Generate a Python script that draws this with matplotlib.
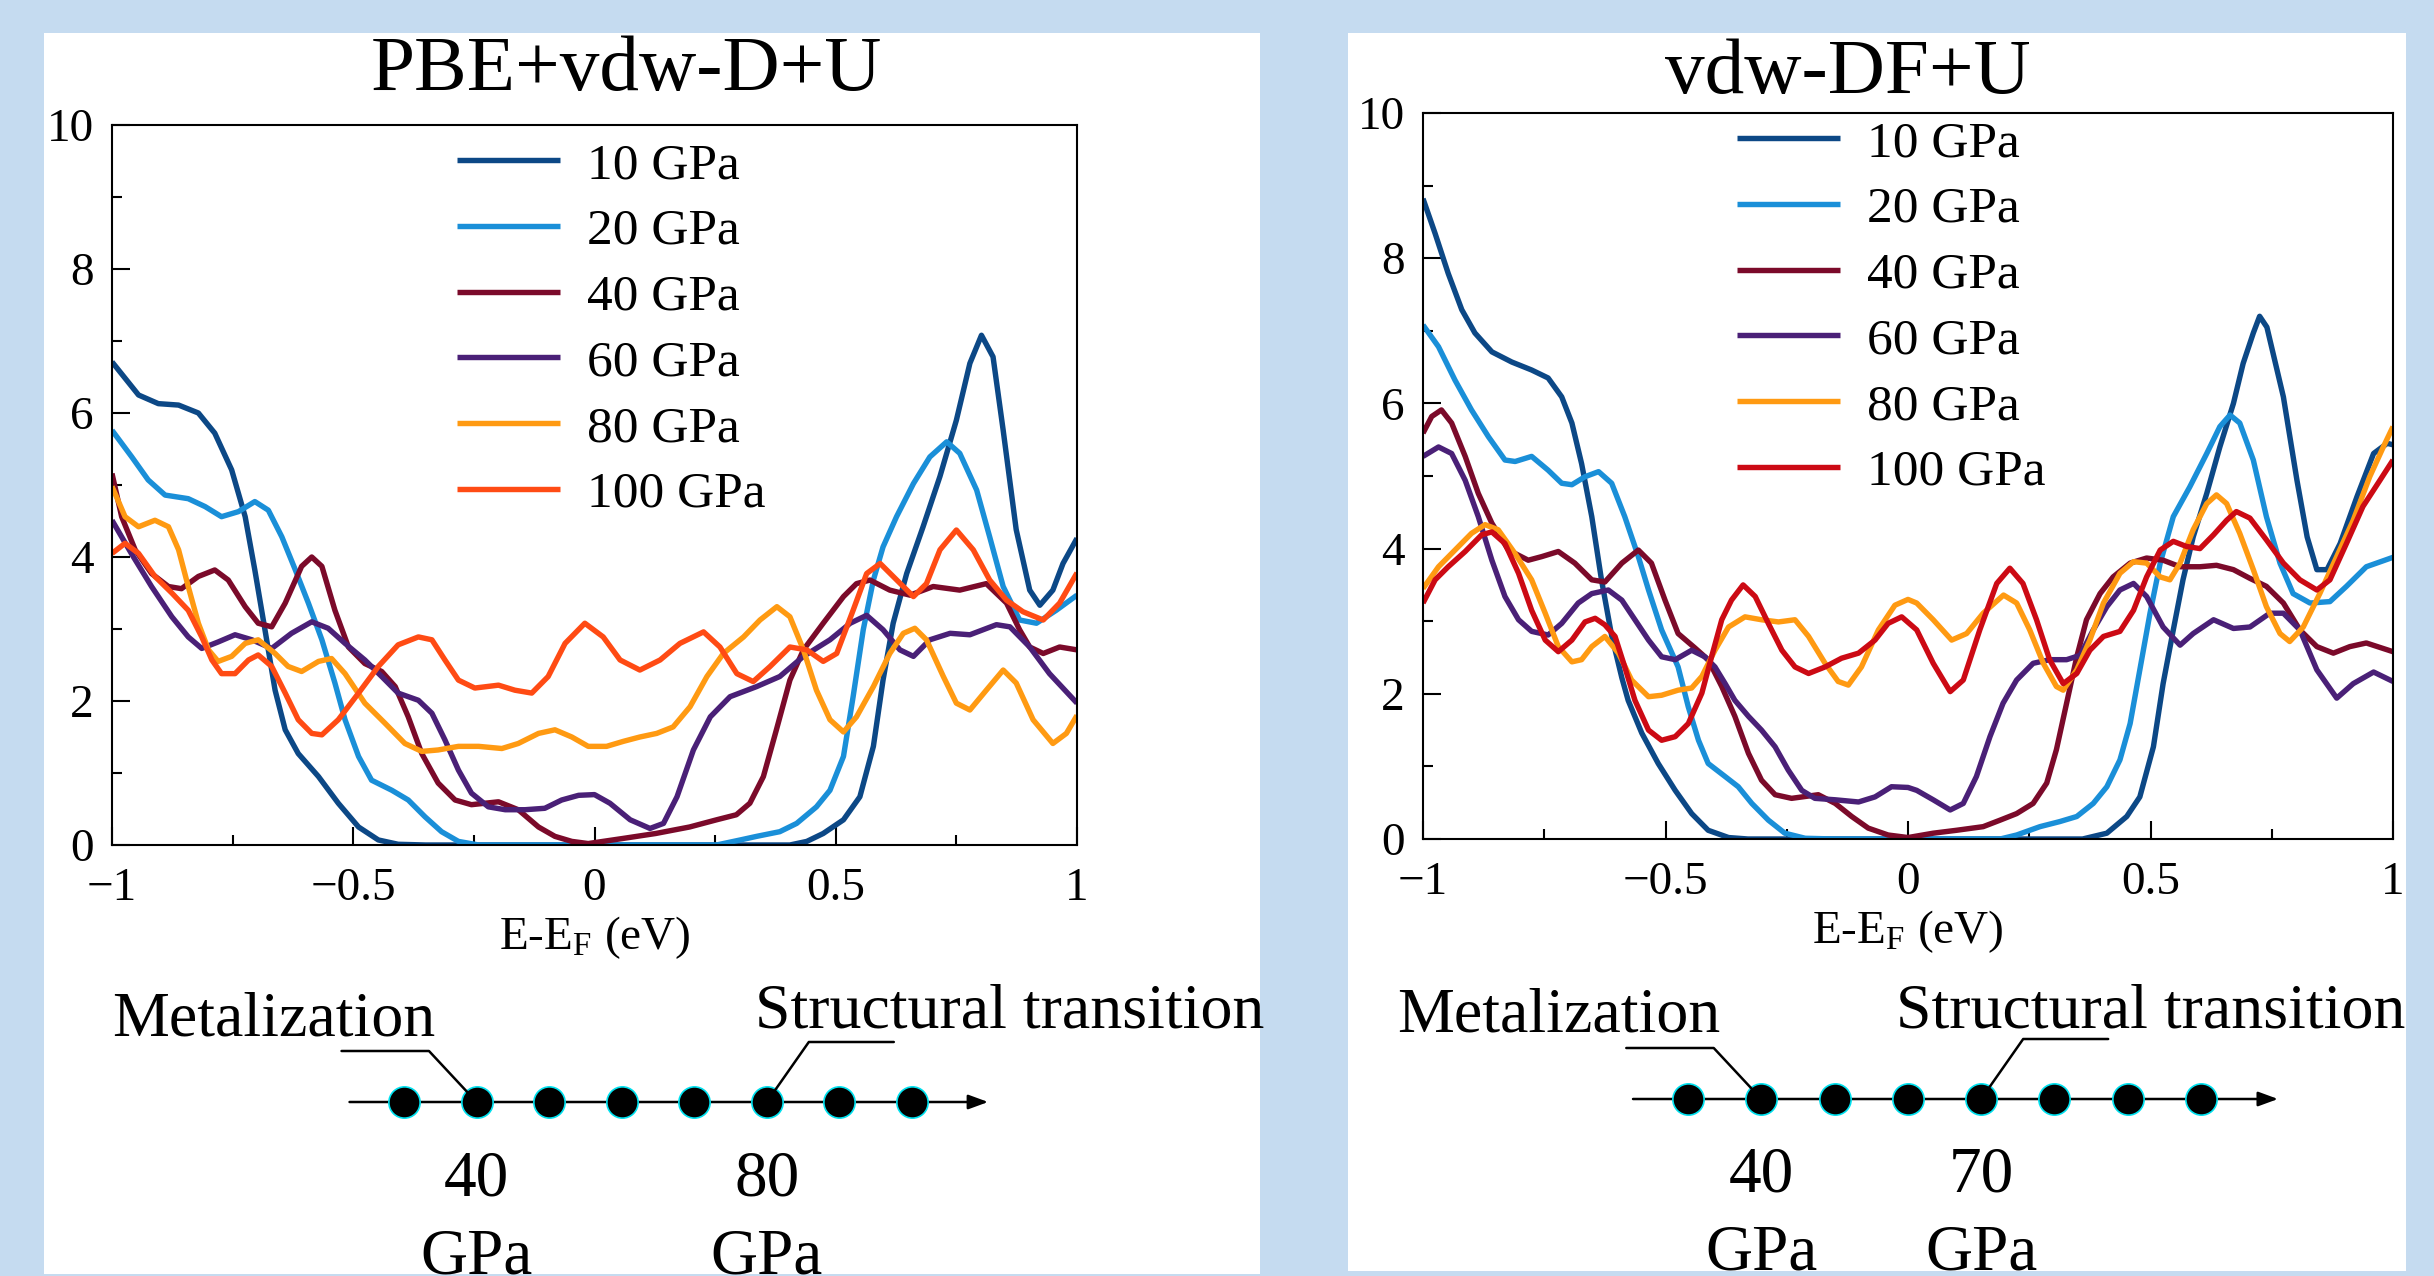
import matplotlib
matplotlib.use("Agg")
import matplotlib.pyplot as plt
from matplotlib.patches import Rectangle
from matplotlib.ticker import MultipleLocator, FuncFormatter

plt.rcParams['font.family'] = ['Liberation Serif', 'DejaVu Serif']
plt.rcParams['mathtext.fontset'] = 'custom'
plt.rcParams['mathtext.rm'] = 'Liberation Serif'
plt.rcParams['mathtext.it'] = 'Liberation Serif:italic'

# ---------------- data ----------------
labels = ['10 GPa', '20 GPa', '40 GPa', '60 GPa', '80 GPa', '100 GPa']

# PBE+vdw-D+U
pbe_e_10 = [-1, -0.945, -0.904, -0.862, -0.821, -0.787, -0.752, -0.724, -0.704, -0.683, -0.662, -0.641, -0.614, -0.572, -0.531, -0.489, -0.448, -0.407, -0.35, 0.0, 0.35, 0.405, 0.44, 0.474, 0.516, 0.55, 0.578, 0.598, 0.619, 0.647, 0.681, 0.716, 0.75, 0.778, 0.802, 0.826, 0.847, 0.874, 0.902, 0.923, 0.95, 0.971, 1.0]
pbe_d_10 = [6.71, 6.25, 6.13, 6.11, 6.0, 5.72, 5.21, 4.56, 3.82, 2.99, 2.15, 1.60, 1.27, 0.95, 0.58, 0.25, 0.07, 0.01, 0, 0, 0, 0, 0.05, 0.16, 0.35, 0.67, 1.37, 2.29, 3.08, 3.77, 4.42, 5.12, 5.90, 6.69, 7.08, 6.78, 5.76, 4.38, 3.54, 3.33, 3.54, 3.91, 4.26]

pbe_e_20 = [-1, -0.959, -0.925, -0.89, -0.842, -0.807, -0.773, -0.738, -0.704, -0.676, -0.648, -0.62, -0.593, -0.565, -0.538, -0.517, -0.489, -0.462, -0.42, -0.386, -0.351, -0.317, -0.282, -0.24, 0.0, 0.253, 0.302, 0.336, 0.384, 0.419, 0.46, 0.488, 0.516, 0.536, 0.557, 0.578, 0.598, 0.626, 0.661, 0.695, 0.73, 0.757, 0.792, 0.819, 0.847, 0.881, 0.916, 0.957, 1.0]
pbe_d_20 = [5.76, 5.39, 5.07, 4.86, 4.81, 4.70, 4.56, 4.63, 4.77, 4.65, 4.28, 3.82, 3.36, 2.85, 2.25, 1.74, 1.23, 0.90, 0.76, 0.625, 0.39, 0.185, 0.05, 0, 0, 0, 0.07, 0.12, 0.185, 0.30, 0.53, 0.76, 1.23, 2.06, 2.99, 3.68, 4.14, 4.56, 5.02, 5.39, 5.60, 5.44, 4.93, 4.28, 3.59, 3.125, 3.08, 3.26, 3.47]

pbe_e_40 = [-1, -0.98, -0.952, -0.918, -0.883, -0.856, -0.821, -0.787, -0.759, -0.724, -0.697, -0.669, -0.641, -0.607, -0.586, -0.565, -0.538, -0.51, -0.476, -0.441, -0.413, -0.386, -0.358, -0.324, -0.289, -0.255, -0.199, -0.158, -0.116, -0.082, -0.047, -0.013, 0.058, 0.127, 0.197, 0.253, 0.294, 0.322, 0.35, 0.377, 0.405, 0.433, 0.474, 0.516, 0.543, 0.571, 0.612, 0.654, 0.702, 0.757, 0.812, 0.854, 0.881, 0.902, 0.93, 0.964, 1.0]
pbe_d_40 = [5.16, 4.56, 4.10, 3.77, 3.59, 3.56, 3.73, 3.82, 3.68, 3.31, 3.08, 3.03, 3.36, 3.87, 4.0, 3.87, 3.26, 2.75, 2.52, 2.41, 2.20, 1.78, 1.27, 0.86, 0.625, 0.56, 0.60, 0.49, 0.25, 0.12, 0.05, 0.02, 0.09, 0.16, 0.25, 0.35, 0.42, 0.58, 0.95, 1.60, 2.29, 2.71, 3.08, 3.45, 3.63, 3.68, 3.54, 3.47, 3.59, 3.54, 3.63, 3.36, 2.99, 2.75, 2.66, 2.75, 2.71]

pbe_e_60 = [-1, -0.96, -0.918, -0.876, -0.842, -0.814, -0.78, -0.745, -0.71, -0.669, -0.628, -0.586, -0.552, -0.517, -0.476, -0.441, -0.407, -0.365, -0.337, -0.31, -0.282, -0.255, -0.22, -0.185, -0.144, -0.103, -0.068, -0.033, 0.0, 0.032, 0.074, 0.115, 0.143, 0.171, 0.205, 0.24, 0.281, 0.336, 0.384, 0.433, 0.488, 0.53, 0.564, 0.598, 0.633, 0.661, 0.695, 0.737, 0.778, 0.833, 0.861, 0.902, 0.943, 1.0]
pbe_d_60 = [4.51, 4.05, 3.59, 3.17, 2.89, 2.73, 2.82, 2.92, 2.85, 2.73, 2.94, 3.10, 3.01, 2.80, 2.57, 2.34, 2.11, 2.01, 1.83, 1.46, 1.04, 0.72, 0.53, 0.49, 0.49, 0.51, 0.625, 0.69, 0.70, 0.58, 0.35, 0.23, 0.30, 0.67, 1.32, 1.78, 2.06, 2.20, 2.34, 2.62, 2.85, 3.08, 3.19, 2.99, 2.71, 2.62, 2.85, 2.94, 2.92, 3.06, 3.03, 2.75, 2.38, 1.97]

pbe_e_80 = [-1, -0.973, -0.945, -0.911, -0.883, -0.862, -0.842, -0.821, -0.8, -0.78, -0.752, -0.724, -0.697, -0.662, -0.635, -0.607, -0.572, -0.545, -0.517, -0.476, -0.434, -0.393, -0.358, -0.324, -0.282, -0.24, -0.192, -0.158, -0.116, -0.082, -0.047, -0.013, 0.025, 0.06, 0.094, 0.129, 0.163, 0.198, 0.233, 0.267, 0.309, 0.343, 0.378, 0.405, 0.433, 0.46, 0.488, 0.516, 0.543, 0.578, 0.612, 0.64, 0.664, 0.688, 0.723, 0.75, 0.778, 0.812, 0.847, 0.874, 0.909, 0.95, 0.978, 1.0]
pbe_d_80 = [4.98, 4.56, 4.42, 4.51, 4.42, 4.10, 3.59, 3.08, 2.71, 2.55, 2.62, 2.80, 2.85, 2.66, 2.48, 2.41, 2.55, 2.59, 2.38, 1.97, 1.69, 1.41, 1.30, 1.32, 1.37, 1.37, 1.34, 1.41, 1.55, 1.60, 1.50, 1.37, 1.37, 1.44, 1.50, 1.55, 1.64, 1.92, 2.34, 2.66, 2.89, 3.125, 3.31, 3.17, 2.71, 2.15, 1.74, 1.57, 1.78, 2.20, 2.66, 2.94, 3.01, 2.85, 2.34, 1.97, 1.875, 2.15, 2.43, 2.25, 1.74, 1.41, 1.55, 1.80]

pbe_e_100 = [-1, -0.973, -0.945, -0.911, -0.876, -0.842, -0.814, -0.793, -0.773, -0.745, -0.717, -0.697, -0.669, -0.641, -0.614, -0.586, -0.565, -0.531, -0.489, -0.448, -0.407, -0.365, -0.337, -0.31, -0.282, -0.248, -0.199, -0.165, -0.13, -0.096, -0.061, -0.02, 0.018, 0.053, 0.094, 0.136, 0.177, 0.226, 0.26, 0.295, 0.329, 0.364, 0.405, 0.44, 0.474, 0.502, 0.536, 0.564, 0.592, 0.619, 0.661, 0.688, 0.716, 0.75, 0.785, 0.819, 0.854, 0.888, 0.93, 0.964, 1.0]
pbe_d_100 = [4.05, 4.19, 4.05, 3.73, 3.50, 3.26, 2.89, 2.57, 2.38, 2.38, 2.57, 2.64, 2.48, 2.11, 1.74, 1.55, 1.53, 1.74, 2.11, 2.48, 2.78, 2.89, 2.85, 2.57, 2.29, 2.18, 2.22, 2.15, 2.11, 2.34, 2.80, 3.08, 2.89, 2.57, 2.43, 2.57, 2.80, 2.96, 2.75, 2.38, 2.27, 2.48, 2.75, 2.71, 2.55, 2.66, 3.26, 3.77, 3.91, 3.73, 3.45, 3.63, 4.10, 4.375, 4.10, 3.68, 3.40, 3.24, 3.125, 3.36, 3.78]

# vdw-DF+U
df_e_10 = [-1, -0.975, -0.948, -0.92, -0.893, -0.858, -0.817, -0.776, -0.742, -0.714, -0.693, -0.673, -0.652, -0.632, -0.611, -0.59, -0.577, -0.549, -0.515, -0.48, -0.446, -0.412, -0.37, -0.33, 0.0, 0.36, 0.41, 0.451, 0.478, 0.506, 0.526, 0.547, 0.567, 0.588, 0.616, 0.643, 0.671, 0.691, 0.712, 0.725, 0.74, 0.774, 0.802, 0.823, 0.843, 0.864, 0.891, 0.926, 0.96, 0.988, 1.0]
df_d_10 = [8.82, 8.34, 7.79, 7.29, 6.97, 6.71, 6.57, 6.46, 6.35, 6.09, 5.73, 5.17, 4.44, 3.57, 2.80, 2.22, 1.91, 1.46, 1.04, 0.67, 0.35, 0.12, 0.02, 0, 0, 0, 0.08, 0.31, 0.58, 1.27, 2.14, 2.88, 3.57, 4.16, 4.76, 5.40, 6.0, 6.55, 6.97, 7.2, 7.05, 6.09, 4.94, 4.16, 3.71, 3.71, 4.07, 4.72, 5.31, 5.45, 5.43]

df_e_20 = [-1, -0.968, -0.934, -0.9, -0.865, -0.831, -0.81, -0.776, -0.742, -0.714, -0.693, -0.666, -0.638, -0.611, -0.584, -0.556, -0.535, -0.508, -0.474, -0.453, -0.432, -0.412, -0.377, -0.35, -0.322, -0.288, -0.254, -0.212, -0.15, 0.0, 0.19, 0.224, 0.272, 0.313, 0.348, 0.382, 0.41, 0.437, 0.458, 0.478, 0.499, 0.52, 0.547, 0.581, 0.616, 0.643, 0.664, 0.684, 0.712, 0.739, 0.767, 0.794, 0.829, 0.87, 0.904, 0.945, 1.0]
df_d_20 = [7.08, 6.78, 6.32, 5.91, 5.54, 5.22, 5.20, 5.27, 5.08, 4.90, 4.88, 4.99, 5.06, 4.90, 4.44, 3.89, 3.43, 2.88, 2.37, 1.82, 1.36, 1.04, 0.86, 0.72, 0.49, 0.26, 0.08, 0.01, 0, 0, 0, 0.055, 0.17, 0.24, 0.31, 0.49, 0.72, 1.09, 1.59, 2.33, 3.11, 3.80, 4.44, 4.85, 5.31, 5.68, 5.84, 5.73, 5.22, 4.44, 3.80, 3.38, 3.25, 3.27, 3.48, 3.75, 3.88]

df_e_40 = [-1, -0.982, -0.962, -0.941, -0.913, -0.886, -0.858, -0.824, -0.783, -0.755, -0.721, -0.687, -0.652, -0.625, -0.59, -0.556, -0.529, -0.501, -0.474, -0.439, -0.412, -0.384, -0.357, -0.329, -0.302, -0.274, -0.24, -0.185, -0.15, -0.116, -0.082, -0.041, 0.0, 0.052, 0.1, 0.155, 0.19, 0.224, 0.258, 0.286, 0.306, 0.327, 0.348, 0.368, 0.396, 0.423, 0.458, 0.492, 0.526, 0.561, 0.602, 0.636, 0.671, 0.705, 0.739, 0.774, 0.808, 0.843, 0.877, 0.911, 0.945, 1.0]
df_d_40 = [5.59, 5.82, 5.91, 5.73, 5.27, 4.76, 4.35, 3.98, 3.84, 3.89, 3.96, 3.80, 3.57, 3.54, 3.80, 3.98, 3.80, 3.29, 2.83, 2.63, 2.47, 2.10, 1.69, 1.18, 0.81, 0.61, 0.56, 0.61, 0.49, 0.31, 0.15, 0.055, 0.02, 0.08, 0.12, 0.17, 0.26, 0.35, 0.49, 0.77, 1.23, 1.87, 2.51, 3.02, 3.38, 3.61, 3.80, 3.87, 3.84, 3.75, 3.75, 3.77, 3.71, 3.59, 3.48, 3.25, 2.88, 2.65, 2.56, 2.65, 2.70, 2.58]

df_e_60 = [-1, -0.968, -0.941, -0.913, -0.886, -0.858, -0.831, -0.803, -0.776, -0.742, -0.714, -0.68, -0.652, -0.618, -0.59, -0.563, -0.535, -0.508, -0.48, -0.446, -0.419, -0.398, -0.377, -0.357, -0.329, -0.302, -0.274, -0.247, -0.219, -0.192, -0.15, -0.102, -0.068, -0.034, 0.0, 0.018, 0.052, 0.087, 0.114, 0.141, 0.169, 0.196, 0.224, 0.258, 0.292, 0.327, 0.355, 0.382, 0.41, 0.437, 0.465, 0.492, 0.526, 0.561, 0.588, 0.63, 0.671, 0.705, 0.746, 0.774, 0.808, 0.843, 0.884, 0.918, 0.96, 1.0]
df_d_60 = [5.27, 5.40, 5.31, 4.94, 4.44, 3.84, 3.34, 3.02, 2.86, 2.81, 2.97, 3.25, 3.38, 3.43, 3.29, 3.02, 2.74, 2.51, 2.47, 2.60, 2.51, 2.37, 2.14, 1.91, 1.69, 1.50, 1.27, 0.95, 0.67, 0.56, 0.54, 0.51, 0.58, 0.72, 0.71, 0.67, 0.54, 0.40, 0.49, 0.86, 1.41, 1.87, 2.19, 2.42, 2.47, 2.47, 2.53, 2.88, 3.20, 3.43, 3.52, 3.34, 2.92, 2.67, 2.83, 3.02, 2.90, 2.92, 3.11, 3.11, 2.88, 2.33, 1.94, 2.14, 2.30, 2.17]

df_e_80 = [-1, -0.968, -0.934, -0.9, -0.872, -0.845, -0.81, -0.776, -0.748, -0.721, -0.693, -0.673, -0.652, -0.625, -0.597, -0.57, -0.535, -0.508, -0.474, -0.446, -0.425, -0.398, -0.37, -0.336, -0.302, -0.267, -0.233, -0.205, -0.171, -0.144, -0.123, -0.096, -0.061, -0.027, 0.0, 0.018, 0.052, 0.09, 0.121, 0.155, 0.197, 0.224, 0.251, 0.279, 0.306, 0.32, 0.348, 0.375, 0.403, 0.437, 0.465, 0.492, 0.52, 0.54, 0.561, 0.588, 0.616, 0.636, 0.657, 0.684, 0.712, 0.739, 0.767, 0.787, 0.815, 0.849, 0.884, 0.918, 0.952, 0.98, 1.0]
df_d_80 = [3.45, 3.75, 3.98, 4.21, 4.33, 4.26, 3.93, 3.57, 3.11, 2.65, 2.44, 2.47, 2.65, 2.79, 2.56, 2.19, 1.96, 1.98, 2.05, 2.08, 2.24, 2.60, 2.92, 3.06, 3.02, 2.99, 3.02, 2.79, 2.42, 2.17, 2.12, 2.37, 2.88, 3.22, 3.30, 3.25, 3.02, 2.74, 2.83, 3.11, 3.36, 3.25, 2.88, 2.42, 2.10, 2.05, 2.33, 2.74, 3.25, 3.66, 3.82, 3.80, 3.61, 3.57, 3.80, 4.26, 4.62, 4.74, 4.62, 4.21, 3.71, 3.20, 2.83, 2.72, 2.92, 3.38, 3.89, 4.39, 4.99, 5.40, 5.68]

df_e_100 = [-1, -0.975, -0.948, -0.913, -0.879, -0.858, -0.831, -0.803, -0.776, -0.748, -0.721, -0.693, -0.666, -0.645, -0.625, -0.604, -0.584, -0.563, -0.535, -0.508, -0.48, -0.453, -0.425, -0.405, -0.384, -0.364, -0.34, -0.315, -0.288, -0.26, -0.233, -0.205, -0.171, -0.137, -0.102, -0.068, -0.041, -0.013, 0.018, 0.052, 0.087, 0.114, 0.148, 0.183, 0.21, 0.237, 0.265, 0.292, 0.32, 0.348, 0.375, 0.403, 0.437, 0.465, 0.492, 0.52, 0.547, 0.574, 0.602, 0.63, 0.657, 0.677, 0.705, 0.739, 0.774, 0.808, 0.843, 0.87, 0.904, 0.938, 0.973, 1.0]
df_d_100 = [3.25, 3.57, 3.75, 3.96, 4.19, 4.23, 4.07, 3.66, 3.15, 2.74, 2.58, 2.74, 2.99, 3.04, 2.95, 2.79, 2.37, 1.91, 1.50, 1.36, 1.41, 1.59, 2.01, 2.51, 3.02, 3.29, 3.50, 3.34, 2.97, 2.60, 2.37, 2.28, 2.37, 2.49, 2.56, 2.74, 2.97, 3.06, 2.88, 2.42, 2.03, 2.19, 2.88, 3.52, 3.73, 3.52, 3.02, 2.47, 2.14, 2.28, 2.60, 2.79, 2.86, 3.15, 3.61, 3.98, 4.10, 4.03, 4.00, 4.19, 4.39, 4.51, 4.42, 4.12, 3.80, 3.57, 3.43, 3.57, 4.07, 4.58, 4.94, 5.22]

# pressure schematic
pressures = [30, 40, 50, 60, 70, 80, 90, 100]
pbe_metal, pbe_struct = 40, 80
df_metal, df_struct = 40, 70

# ---------------- style ----------------
W, H, DPI = 2434, 1276, 100
BG = '#c5dbf0'
colors_pbe = ['#0c4886', '#1a8fd8', '#7b0a2a', '#4a2077', '#ff9a12', '#ff4b14']
colors_df = ['#0c4886', '#1a8fd8', '#7b0a2a', '#4a2077', '#ff9a12', '#cc0a14']

fig = plt.figure(figsize=(W / DPI, H / DPI), dpi=DPI)
fig.patch.set_facecolor(BG)


def frac_rect(x0, y0, x1, y1):
    return [x0 / W, 1 - y1 / H, (x1 - x0) / W, (y1 - y0) / H]


for r in [(44, 33, 1260, 1274), (1348, 33, 2406, 1271)]:
    fig.add_artist(Rectangle((r[0] / W, 1 - r[3] / H), (r[2] - r[0]) / W, (r[3] - r[1]) / H,
                             transform=fig.transFigure, facecolor='white',
                             edgecolor='none', zorder=0))

fmt = FuncFormatter(lambda v, p: ('%g' % v).replace('-', '\u2212'))


def dos_panel(rect, series, colors, title, title_xy, leg_anchor):
    ax = fig.add_axes(frac_rect(*rect))
    for (e, d), c, lab in zip(series, colors, labels):
        ax.plot(e, d, color=c, lw=3.9, label=lab, solid_joinstyle='round',
                solid_capstyle='butt')
    ax.set_xlim(-1, 1)
    ax.set_ylim(0, 10)
    ax.xaxis.set_major_locator(MultipleLocator(0.5))
    ax.xaxis.set_minor_locator(MultipleLocator(0.25))
    ax.yaxis.set_major_locator(MultipleLocator(2))
    ax.yaxis.set_minor_locator(MultipleLocator(1))
    ax.xaxis.set_major_formatter(fmt)
    ax.yaxis.set_major_formatter(fmt)
    ax.tick_params(which='both', direction='in', top=False, right=False,
                   width=1.5, labelsize=34, colors='black')
    ax.tick_params(which='major', length=13)
    ax.tick_params(which='minor', length=7.5)
    ax.tick_params(axis='x', pad=16)
    ax.tick_params(axis='y', pad=13)
    for s in ax.spines.values():
        s.set_linewidth(1.5)
    ax.set_xlabel('E-E$_{\\mathrm{F}}$ (eV)', fontsize=34, labelpad=3)
    fig.text(title_xy[0] / W, 1 - title_xy[1] / H, title, ha='center',
             va='baseline', fontsize=57)
    ax.legend(loc='upper left', bbox_to_anchor=leg_anchor, frameon=False,
              fontsize=37, handlelength=2.0, handletextpad=0.53,
              labelspacing=0.365, borderpad=0, borderaxespad=0)
    return ax


dos_panel((112, 125, 1077, 845),
          [(pbe_e_10, pbe_d_10), (pbe_e_20, pbe_d_20), (pbe_e_40, pbe_d_40),
           (pbe_e_60, pbe_d_60), (pbe_e_80, pbe_d_80), (pbe_e_100, pbe_d_100)],
          colors_pbe, 'PBE+vdw-D+U', (626, 90), (0.3575, 0.976))
dos_panel((1423, 113, 2393, 839),
          [(df_e_10, df_d_10), (df_e_20, df_d_20), (df_e_40, df_d_40),
           (df_e_60, df_d_60), (df_e_80, df_d_80), (df_e_100, df_d_100)],
          colors_df, 'vdw-DF+U', (1848, 93), (0.3237, 0.990))


def pressure_panel(px_lo, px_hi, yc, p_metal, p_struct, metal_xy, struct_xy):
    # axis: x in GPa (20..115), y in pixel offset below the arrow line
    ax = fig.add_axes(frac_rect(px_lo, yc - 150, px_hi, yc + 150))
    ax.set_xlim(20, 115)
    ax.set_ylim(150, -150)
    ax.axis('off')
    ax.annotate('', xy=(110.5, 0), xytext=(22.5, 0),
                arrowprops=dict(arrowstyle='-|>,head_length=0.6,head_width=0.22',
                                lw=1.8, color='black', mutation_scale=20,
                                shrinkA=0, shrinkB=0))
    ax.plot(pressures, [0] * len(pressures), ls='none', marker='o', ms=22.5,
            mfc='black', mec='#00e0ee', mew=1.2, zorder=3)
    ax.annotate('', xy=(p_metal, 0), xytext=(-135, 51), textcoords='offset pixels',
                arrowprops=dict(arrowstyle='-', lw=1.8, color='black',
                                connectionstyle='angle,angleA=0,angleB=133,rad=0',
                                shrinkA=0, shrinkB=8))
    ax.annotate('', xy=(p_struct, 0), xytext=(127, 60), textcoords='offset pixels',
                arrowprops=dict(arrowstyle='-', lw=1.8, color='black',
                                connectionstyle='angle,angleA=0,angleB=55,rad=0',
                                shrinkA=0, shrinkB=8))
    for p in (p_metal, p_struct):
        ax.text(p, 93, '%d' % p, ha='center', va='baseline', fontsize=47)
        ax.text(p, 171, 'GPa', ha='center', va='baseline', fontsize=47)
    fig.text(metal_xy[0] / W, 1 - metal_xy[1] / H, 'Metalization',
             ha='left', va='baseline', fontsize=46)
    fig.text(struct_xy[0] / W, 1 - struct_xy[1] / H, 'Structural transition',
             ha='left', va='baseline', fontsize=46)


pressure_panel(331.4, 1020.8, 1102, pbe_metal, pbe_struct, (112, 1035), (755, 1028))
pressure_panel(1614.7, 2311.0, 1099, df_metal, df_struct, (1397, 1032), (1896, 1027))

fig.savefig('out.png', dpi=DPI, facecolor=BG)
